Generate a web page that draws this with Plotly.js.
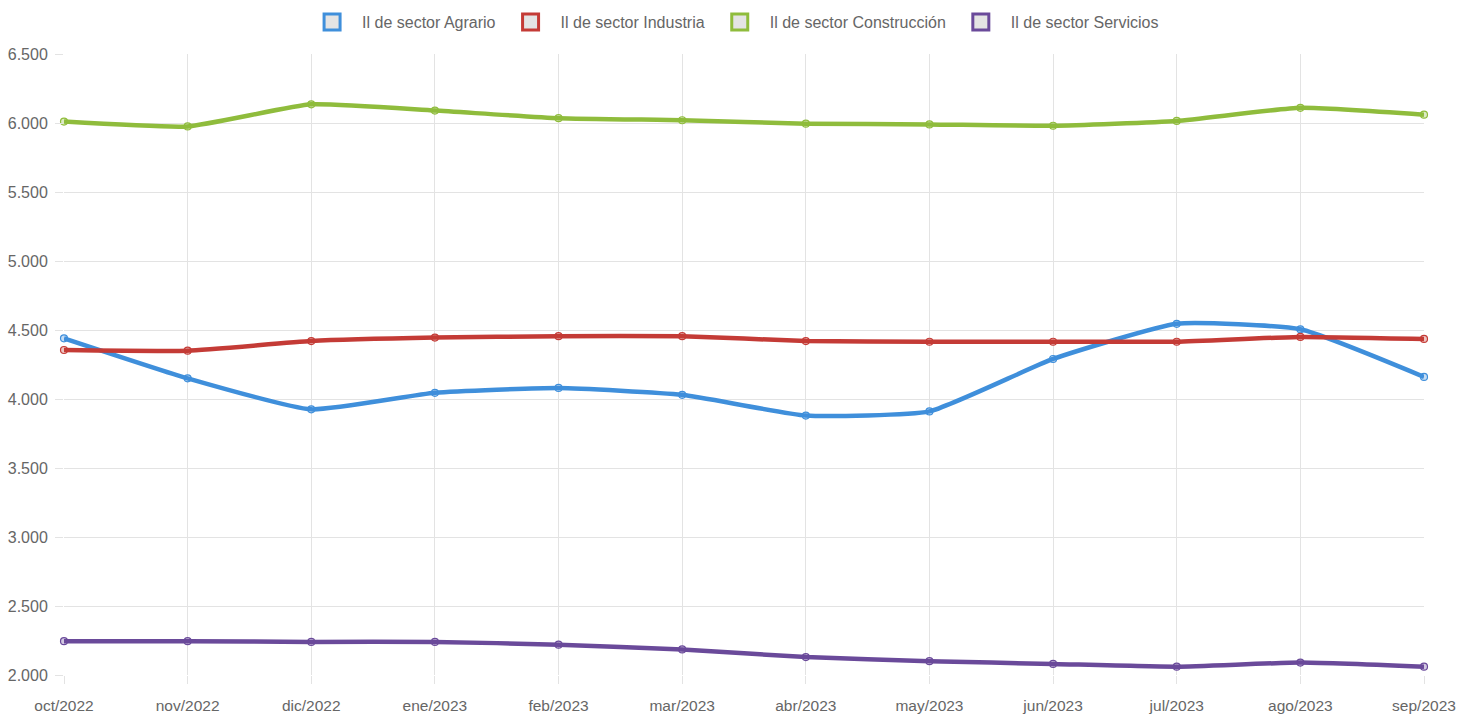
<!DOCTYPE html>
<html>
<head>
<meta charset="utf-8">
<script src="https://cdn.plot.ly/plotly-3.0.1.min.js"></script>
<style>
html,body{margin:0;padding:0;background:#fff;}
#chart{width:1475px;height:717px;}
</style>
</head>
<body>
<div id="chart"></div>
<script>
const months = ["oct/2022","nov/2022","dic/2022","ene/2023","feb/2023","mar/2023","abr/2023","may/2023","jun/2023","jul/2023","ago/2023","sep/2023"];
const seriesNames = ["Il de sector Agrario","Il de sector Industria","Il de sector Construcción","Il de sector Servicios"];
const agrario      = [4440, 4150, 3925, 4045, 4080, 4030, 3880, 3910, 4290, 4545, 4505, 4160];
const industria    = [4355, 4350, 4420, 4445, 4455, 4455, 4420, 4415, 4415, 4415, 4450, 4435];
const construccion = [6010, 5975, 6135, 6090, 6035, 6020, 5995, 5990, 5980, 6015, 6110, 6060];
const servicios    = [2245, 2245, 2240, 2240, 2220, 2185, 2130, 2100, 2080, 2060, 2090, 2060];
const yTicks = [2000, 2500, 3000, 3500, 4000, 4500, 5000, 5500, 6000, 6500];

const colors = ["#3f8fdb", "#c43b36", "#8fbc3c", "#6a4a9a"];
const fills  = ["rgba(63,143,219,0.3)", "rgba(196,59,54,0.3)", "rgba(143,188,60,0.3)", "rgba(106,74,154,0.3)"];
const data = [agrario, industria, construccion, servicios];

const traces = [];
data.forEach((vals, i) => {
  traces.push({
    type: "scatter", mode: "lines+markers",
    x: months, y: vals, name: seriesNames[i], showlegend: false,
    line: {color: colors[i], width: 4.5, shape: "spline", smoothing: 0.45},
    marker: {size: 7, color: fills[i], line: {color: colors[i], width: 1.2}},
    cliponaxis: false, hoverinfo: "x+y+name"
  });
});
// legend entries (box style)
seriesNames.forEach((n, i) => {
  traces.push({
    type: "scatter", mode: "markers", x: [null], y: [null], name: n, showlegend: true,
    marker: {symbol: "square", size: 16, color: "#e4e4e4", line: {color: colors[i], width: 3}},
    hoverinfo: "skip"
  });
});

const font = "'Liberation Sans Narrow', 'Liberation Sans', Arial, sans-serif";
const layout = {
  width: 1475, height: 717,
  margin: {l: 64, r: 51, t: 54, b: 42},
  paper_bgcolor: "#fff", plot_bgcolor: "#fff",
  separators: ",.",
  font: {family: font, size: 16, color: "#666"},
  showlegend: true,
  legend: {
    orientation: "h", xref: "container", yref: "container",
    x: 0.497, xanchor: "center", y: 0.993, yanchor: "top",
    itemwidth: 50,
    font: {family: font, size: 16, color: "#666"},
    itemclick: false, itemdoubleclick: false
  },
  xaxis: {
    type: "category", categoryarray: months, range: [0, 11],
    showgrid: true, gridcolor: "#e3e3e3", gridwidth: 1,
    zeroline: false, showline: false,
    ticks: "outside", ticklen: 8, tickcolor: "#e3e3e3",
    ticklabelstandoff: 8,
    tickfont: {family: font, size: 15.5, color: "#666"},
    fixedrange: true
  },
  yaxis: {
    range: [2000, 6500], tickvals: yTicks, tickformat: ",d",
    showgrid: true, gridcolor: "#e3e3e3", gridwidth: 1,
    zeroline: false, showline: false,
    ticks: "outside", ticklen: 8, tickcolor: "#e3e3e3",
    ticklabelstandoff: 4,
    tickfont: {family: font, size: 16, color: "#666"},
    fixedrange: true
  },
  hovermode: "closest"
};

Plotly.newPlot("chart", traces, layout, {displayModeBar: false, responsive: false});
</script>
</body>
</html>
